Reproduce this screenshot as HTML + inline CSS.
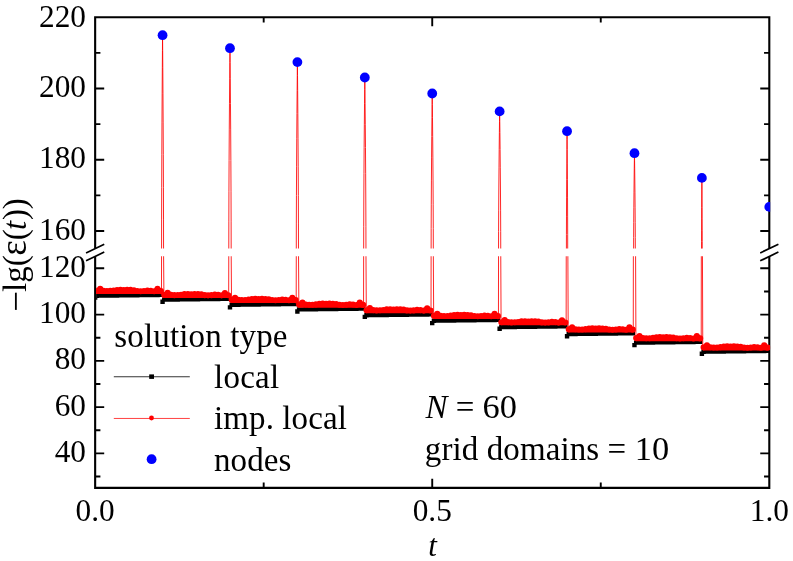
<!DOCTYPE html>
<html><head><meta charset="utf-8"><title>chart</title>
<style>html,body{margin:0;padding:0;background:#fff;}body{width:793px;height:561px;overflow:hidden;}svg{display:block;}text{font-family:"Liberation Serif",serif;fill:#000;}</style>
</head><body>
<svg width="793" height="561" viewBox="0 0 793 561" style="will-change:transform">
<rect x="0" y="0" width="793" height="561" fill="#fff"/>
<path d="M95.15 16.20V248.60M95.15 256.30V488.90M769.30 16.20V248.60M769.30 256.30V488.90M95.15 17.25H769.30M95.15 487.85H769.30" stroke="#000" stroke-width="2.1" fill="none"/>
<path d="M95.15 231.00h9.05M769.30 231.00h-9.05M95.15 159.75h9.05M769.30 159.75h-9.05M95.15 88.50h9.05M769.30 88.50h-9.05M95.15 195.38h5.25M769.30 195.38h-5.25M95.15 124.12h5.25M769.30 124.12h-5.25M95.15 52.88h5.25M769.30 52.88h-5.25M95.15 453.40h9.05M769.30 453.40h-9.05M95.15 407.13h9.05M769.30 407.13h-9.05M95.15 360.85h9.05M769.30 360.85h-9.05M95.15 314.58h9.05M769.30 314.58h-9.05M95.15 268.30h9.05M769.30 268.30h-9.05M95.15 476.54h5.25M769.30 476.54h-5.25M95.15 430.27h5.25M769.30 430.27h-5.25M95.15 383.99h5.25M769.30 383.99h-5.25M95.15 337.71h5.25M769.30 337.71h-5.25M95.15 291.44h5.25M769.30 291.44h-5.25M432.23 487.85v-9.05M432.23 17.25v9.05M263.69 487.85v-5.25M263.69 17.25v5.25M600.76 487.85v-5.25M600.76 17.25v5.25" stroke="#000" stroke-width="1.9" fill="none"/>
<path d="M86.05 252.90L104.25 244.20M86.05 260.80L104.25 252.10M760.20 252.90L778.40 244.20M760.20 260.80L778.40 252.10" stroke="#000" stroke-width="1.7" fill="none"/>
<clipPath id="cl"><rect x="96.10" y="256.30" width="674.05" height="231.55"/></clipPath>
<clipPath id="cu"><rect x="96.10" y="17.25" width="674.05" height="231.35"/></clipPath>
<g clip-path="url(#cl)"><path d="M92.95 295.40h4.4v4.4h-4.4zM94.64 293.50h4.4v4.4h-4.4zM98.01 293.46h4.4v4.4h-4.4zM101.38 293.42h4.4v4.4h-4.4zM104.75 293.37h4.4v4.4h-4.4zM108.12 293.33h4.4v4.4h-4.4zM111.49 293.29h4.4v4.4h-4.4zM114.86 293.25h4.4v4.4h-4.4zM118.23 293.21h4.4v4.4h-4.4zM121.60 293.16h4.4v4.4h-4.4zM124.97 293.12h4.4v4.4h-4.4zM128.34 293.08h4.4v4.4h-4.4zM131.71 293.04h4.4v4.4h-4.4zM135.08 292.99h4.4v4.4h-4.4zM138.46 292.95h4.4v4.4h-4.4zM141.83 292.91h4.4v4.4h-4.4zM145.20 292.87h4.4v4.4h-4.4zM148.57 292.83h4.4v4.4h-4.4zM151.94 292.78h4.4v4.4h-4.4zM155.31 292.74h4.4v4.4h-4.4zM158.68 292.70h4.4v4.4h-4.4zM160.37 299.55h4.4v4.4h-4.4zM162.05 297.40h4.4v4.4h-4.4zM165.42 297.36h4.4v4.4h-4.4zM168.79 297.32h4.4v4.4h-4.4zM172.16 297.27h4.4v4.4h-4.4zM175.53 297.23h4.4v4.4h-4.4zM178.90 297.19h4.4v4.4h-4.4zM182.27 297.15h4.4v4.4h-4.4zM185.65 297.11h4.4v4.4h-4.4zM189.02 297.06h4.4v4.4h-4.4zM192.39 297.02h4.4v4.4h-4.4zM195.76 296.98h4.4v4.4h-4.4zM199.13 296.94h4.4v4.4h-4.4zM202.50 296.89h4.4v4.4h-4.4zM205.87 296.85h4.4v4.4h-4.4zM209.24 296.81h4.4v4.4h-4.4zM212.61 296.77h4.4v4.4h-4.4zM215.98 296.73h4.4v4.4h-4.4zM219.35 296.68h4.4v4.4h-4.4zM222.72 296.64h4.4v4.4h-4.4zM226.09 296.60h4.4v4.4h-4.4zM227.78 305.20h4.4v4.4h-4.4zM229.47 302.60h4.4v4.4h-4.4zM232.84 302.56h4.4v4.4h-4.4zM236.21 302.52h4.4v4.4h-4.4zM239.58 302.47h4.4v4.4h-4.4zM242.95 302.43h4.4v4.4h-4.4zM246.32 302.39h4.4v4.4h-4.4zM249.69 302.35h4.4v4.4h-4.4zM253.06 302.31h4.4v4.4h-4.4zM256.43 302.26h4.4v4.4h-4.4zM259.80 302.22h4.4v4.4h-4.4zM263.17 302.18h4.4v4.4h-4.4zM266.54 302.14h4.4v4.4h-4.4zM269.91 302.09h4.4v4.4h-4.4zM273.29 302.05h4.4v4.4h-4.4zM276.66 302.01h4.4v4.4h-4.4zM280.03 301.97h4.4v4.4h-4.4zM283.40 301.93h4.4v4.4h-4.4zM286.77 301.88h4.4v4.4h-4.4zM290.14 301.84h4.4v4.4h-4.4zM293.51 301.80h4.4v4.4h-4.4zM295.19 309.30h4.4v4.4h-4.4zM296.88 307.20h4.4v4.4h-4.4zM300.25 307.16h4.4v4.4h-4.4zM303.62 307.12h4.4v4.4h-4.4zM306.99 307.07h4.4v4.4h-4.4zM310.36 307.03h4.4v4.4h-4.4zM313.73 306.99h4.4v4.4h-4.4zM317.10 306.95h4.4v4.4h-4.4zM320.48 306.91h4.4v4.4h-4.4zM323.85 306.86h4.4v4.4h-4.4zM327.22 306.82h4.4v4.4h-4.4zM330.59 306.78h4.4v4.4h-4.4zM333.96 306.74h4.4v4.4h-4.4zM337.33 306.69h4.4v4.4h-4.4zM340.70 306.65h4.4v4.4h-4.4zM344.07 306.61h4.4v4.4h-4.4zM347.44 306.57h4.4v4.4h-4.4zM350.81 306.53h4.4v4.4h-4.4zM354.18 306.48h4.4v4.4h-4.4zM357.55 306.44h4.4v4.4h-4.4zM360.92 306.40h4.4v4.4h-4.4zM362.61 314.70h4.4v4.4h-4.4zM364.30 313.00h4.4v4.4h-4.4zM367.67 312.96h4.4v4.4h-4.4zM371.04 312.92h4.4v4.4h-4.4zM374.41 312.87h4.4v4.4h-4.4zM377.78 312.83h4.4v4.4h-4.4zM381.15 312.79h4.4v4.4h-4.4zM384.52 312.75h4.4v4.4h-4.4zM387.89 312.71h4.4v4.4h-4.4zM391.26 312.66h4.4v4.4h-4.4zM394.63 312.62h4.4v4.4h-4.4zM398.00 312.58h4.4v4.4h-4.4zM401.37 312.54h4.4v4.4h-4.4zM404.74 312.49h4.4v4.4h-4.4zM408.12 312.45h4.4v4.4h-4.4zM411.49 312.41h4.4v4.4h-4.4zM414.86 312.37h4.4v4.4h-4.4zM418.23 312.33h4.4v4.4h-4.4zM421.60 312.28h4.4v4.4h-4.4zM424.97 312.24h4.4v4.4h-4.4zM428.34 312.20h4.4v4.4h-4.4zM430.02 320.90h4.4v4.4h-4.4zM431.71 318.50h4.4v4.4h-4.4zM435.08 318.46h4.4v4.4h-4.4zM438.45 318.42h4.4v4.4h-4.4zM441.82 318.37h4.4v4.4h-4.4zM445.19 318.33h4.4v4.4h-4.4zM448.56 318.29h4.4v4.4h-4.4zM451.93 318.25h4.4v4.4h-4.4zM455.31 318.21h4.4v4.4h-4.4zM458.68 318.16h4.4v4.4h-4.4zM462.05 318.12h4.4v4.4h-4.4zM465.42 318.08h4.4v4.4h-4.4zM468.79 318.04h4.4v4.4h-4.4zM472.16 317.99h4.4v4.4h-4.4zM475.53 317.95h4.4v4.4h-4.4zM478.90 317.91h4.4v4.4h-4.4zM482.27 317.87h4.4v4.4h-4.4zM485.64 317.83h4.4v4.4h-4.4zM489.01 317.78h4.4v4.4h-4.4zM492.38 317.74h4.4v4.4h-4.4zM495.75 317.70h4.4v4.4h-4.4zM497.44 326.50h4.4v4.4h-4.4zM499.13 324.90h4.4v4.4h-4.4zM502.50 324.86h4.4v4.4h-4.4zM505.87 324.82h4.4v4.4h-4.4zM509.24 324.77h4.4v4.4h-4.4zM512.61 324.73h4.4v4.4h-4.4zM515.98 324.69h4.4v4.4h-4.4zM519.35 324.65h4.4v4.4h-4.4zM522.72 324.61h4.4v4.4h-4.4zM526.09 324.56h4.4v4.4h-4.4zM529.46 324.52h4.4v4.4h-4.4zM532.83 324.48h4.4v4.4h-4.4zM536.20 324.44h4.4v4.4h-4.4zM539.57 324.39h4.4v4.4h-4.4zM542.95 324.35h4.4v4.4h-4.4zM546.32 324.31h4.4v4.4h-4.4zM549.69 324.27h4.4v4.4h-4.4zM553.06 324.23h4.4v4.4h-4.4zM556.43 324.18h4.4v4.4h-4.4zM559.80 324.14h4.4v4.4h-4.4zM563.17 324.10h4.4v4.4h-4.4zM564.85 334.10h4.4v4.4h-4.4zM566.54 331.85h4.4v4.4h-4.4zM569.91 331.81h4.4v4.4h-4.4zM573.28 331.77h4.4v4.4h-4.4zM576.65 331.72h4.4v4.4h-4.4zM580.02 331.68h4.4v4.4h-4.4zM583.39 331.64h4.4v4.4h-4.4zM586.76 331.60h4.4v4.4h-4.4zM590.14 331.56h4.4v4.4h-4.4zM593.51 331.51h4.4v4.4h-4.4zM596.88 331.47h4.4v4.4h-4.4zM600.25 331.43h4.4v4.4h-4.4zM603.62 331.39h4.4v4.4h-4.4zM606.99 331.34h4.4v4.4h-4.4zM610.36 331.30h4.4v4.4h-4.4zM613.73 331.26h4.4v4.4h-4.4zM617.10 331.22h4.4v4.4h-4.4zM620.47 331.18h4.4v4.4h-4.4zM623.84 331.13h4.4v4.4h-4.4zM627.21 331.09h4.4v4.4h-4.4zM630.58 331.05h4.4v4.4h-4.4zM632.27 342.95h4.4v4.4h-4.4zM633.96 340.45h4.4v4.4h-4.4zM637.33 340.41h4.4v4.4h-4.4zM640.70 340.37h4.4v4.4h-4.4zM644.07 340.32h4.4v4.4h-4.4zM647.44 340.28h4.4v4.4h-4.4zM650.81 340.24h4.4v4.4h-4.4zM654.18 340.20h4.4v4.4h-4.4zM657.55 340.16h4.4v4.4h-4.4zM660.92 340.11h4.4v4.4h-4.4zM664.29 340.07h4.4v4.4h-4.4zM667.66 340.03h4.4v4.4h-4.4zM671.03 339.99h4.4v4.4h-4.4zM674.40 339.94h4.4v4.4h-4.4zM677.78 339.90h4.4v4.4h-4.4zM681.15 339.86h4.4v4.4h-4.4zM684.52 339.82h4.4v4.4h-4.4zM687.89 339.78h4.4v4.4h-4.4zM691.26 339.73h4.4v4.4h-4.4zM694.63 339.69h4.4v4.4h-4.4zM698.00 339.65h4.4v4.4h-4.4zM699.68 351.60h4.4v4.4h-4.4zM701.37 349.50h4.4v4.4h-4.4zM704.74 349.46h4.4v4.4h-4.4zM708.11 349.42h4.4v4.4h-4.4zM711.48 349.37h4.4v4.4h-4.4zM714.85 349.33h4.4v4.4h-4.4zM718.22 349.29h4.4v4.4h-4.4zM721.59 349.25h4.4v4.4h-4.4zM724.97 349.21h4.4v4.4h-4.4zM728.34 349.16h4.4v4.4h-4.4zM731.71 349.12h4.4v4.4h-4.4zM735.08 349.08h4.4v4.4h-4.4zM738.45 349.04h4.4v4.4h-4.4zM741.82 348.99h4.4v4.4h-4.4zM745.19 348.95h4.4v4.4h-4.4zM748.56 348.91h4.4v4.4h-4.4zM751.93 348.87h4.4v4.4h-4.4zM755.30 348.83h4.4v4.4h-4.4zM758.67 348.78h4.4v4.4h-4.4zM762.04 348.74h4.4v4.4h-4.4zM765.41 348.70h4.4v4.4h-4.4z" fill="#000"/></g>
<g clip-path="url(#cl)"><path d="M161.47 291.00L161.56 252.5M163.56 252.5L163.91 295.15M228.68 295.15L228.78 252.5M231.18 252.5L231.53 300.05M296.19 300.05L296.29 252.5M298.50 252.5L298.85 304.80M363.56 304.80L363.66 252.5M365.96 252.5L366.31 310.40M431.02 310.40L431.12 252.5M433.32 252.5L433.67 316.05M498.44 316.05L498.54 252.5M500.74 252.5L501.09 322.40M566.15 322.40L566.25 252.5M567.85 252.5L568.20 329.55M633.27 329.55L633.37 252.5M635.57 252.5L635.92 338.30M701.23 338.30L701.33 252.5M702.43 252.5L702.78 347.55" stroke="#f00" stroke-width="0.85" fill="none"/></g>
<g clip-path="url(#cu)"><path d="M161.56 252.50L161.60 219.91L161.69 187.31L161.82 154.72L161.98 122.12L162.15 93.87L162.32 67.80L162.45 50.41L162.56 35.20L162.68 50.41L162.81 67.80L162.98 93.87L163.15 122.12L163.31 154.72L163.44 187.31L163.53 219.91L163.56 252.50M228.78 252.50L228.83 221.86L228.93 191.21L229.09 160.56L229.28 129.92L229.48 103.36L229.69 78.84L229.84 62.50L229.98 48.20L230.12 62.50L230.27 78.84L230.48 103.36L230.68 129.92L230.87 160.56L231.03 191.21L231.13 221.86L231.18 252.50M296.29 252.50L296.34 223.94L296.44 195.38L296.58 166.82L296.76 138.26L296.94 113.51L297.13 90.66L297.27 75.43L297.39 62.10L297.52 75.43L297.66 90.66L297.85 113.51L298.03 138.26L298.21 166.82L298.35 195.38L298.45 223.94L298.50 252.50M363.66 252.50L363.71 226.25L363.81 200.00L363.96 173.75L364.14 147.50L364.33 124.75L364.53 103.75L364.68 89.75L364.81 77.50L364.94 89.75L365.09 103.75L365.29 124.75L365.48 147.50L365.66 173.75L365.81 200.00L365.91 226.25L365.96 252.50M431.12 252.50L431.17 228.65L431.27 204.80L431.41 180.95L431.59 157.10L431.77 136.43L431.96 117.35L432.10 104.63L432.22 93.50L432.35 104.63L432.49 117.35L432.68 136.43L432.86 157.10L433.04 180.95L433.18 204.80L433.28 228.65L433.32 252.50M498.54 252.50L498.58 231.33L498.68 210.17L498.82 189.00L499.00 167.84L499.18 149.50L499.37 132.56L499.51 121.28L499.64 111.40L499.77 121.28L499.91 132.56L500.10 149.50L500.28 167.84L500.46 189.00L500.60 210.17L500.70 231.33L500.74 252.50M566.40 252.50L566.43 234.31L566.49 216.11L566.57 197.92L566.68 179.72L566.79 163.95L566.90 149.39L566.98 139.69L567.05 131.20L567.13 139.69L567.21 149.39L567.32 163.95L567.43 179.72L567.54 197.92L567.62 216.11L567.68 234.31L567.70 252.50M633.62 252.50L633.65 237.60L633.73 222.71L633.84 207.81L633.98 192.92L634.12 180.01L634.26 168.09L634.37 160.15L634.47 153.20L634.57 160.15L634.68 168.09L634.82 180.01L634.96 192.92L635.10 207.81L635.21 222.71L635.29 237.60L635.32 252.50M701.53 252.50L701.55 241.31L701.58 230.12L701.63 218.93L701.68 207.74L701.74 198.04L701.80 189.09L701.84 183.12L701.88 177.90L701.93 183.12L701.97 189.09L702.03 198.04L702.09 207.74L702.14 218.93L702.19 230.12L702.22 241.31L702.23 252.50" stroke="#f00" stroke-width="0.85" stroke-linejoin="round" fill="none"/></g>
<g clip-path="url(#cl)"><path d="M96.84 291.55H160.88M164.25 295.70H228.29M231.67 300.60H295.71M299.08 305.35H363.12M366.50 310.95H430.54M433.91 316.60H497.95M501.33 322.95H565.37M568.74 330.10H632.78M636.16 338.85H700.20M703.57 348.10H767.61" stroke="#f00" stroke-width="4.80" stroke-linecap="round" fill="none"/><path d="M96.84 290.80h.01M100.21 288.70h.01M103.58 290.70h.01M106.95 291.00h.01M110.32 290.90h.01M113.69 290.60h.01M117.06 290.00h.01M120.43 289.80h.01M123.80 290.10h.01M127.17 289.80h.01M130.54 289.90h.01M133.91 290.20h.01M137.28 291.00h.01M140.66 291.20h.01M144.03 291.00h.01M147.40 290.50h.01M150.77 290.70h.01M154.14 291.20h.01M157.51 288.80h.01M160.88 291.10h.01M164.25 294.95h.01M167.62 292.85h.01M170.99 294.85h.01M174.36 295.15h.01M177.73 295.05h.01M181.10 294.75h.01M184.47 294.15h.01M187.85 293.95h.01M191.22 294.25h.01M194.59 293.95h.01M197.96 294.05h.01M201.33 294.35h.01M204.70 295.15h.01M208.07 295.35h.01M211.44 295.15h.01M214.81 294.65h.01M218.18 294.85h.01M221.55 295.35h.01M224.92 292.95h.01M228.29 295.25h.01M231.67 299.85h.01M235.04 297.75h.01M238.41 299.75h.01M241.78 300.05h.01M245.15 299.95h.01M248.52 299.65h.01M251.89 299.05h.01M255.26 298.85h.01M258.63 299.15h.01M262.00 298.85h.01M265.37 298.95h.01M268.74 299.25h.01M272.11 300.05h.01M275.49 300.25h.01M278.86 300.05h.01M282.23 299.55h.01M285.60 299.75h.01M288.97 300.25h.01M292.34 297.85h.01M295.71 300.15h.01M299.08 304.60h.01M302.45 302.50h.01M305.82 304.50h.01M309.19 304.80h.01M312.56 304.70h.01M315.93 304.40h.01M319.30 303.80h.01M322.68 303.60h.01M326.05 303.90h.01M329.42 303.60h.01M332.79 303.70h.01M336.16 304.00h.01M339.53 304.80h.01M342.90 305.00h.01M346.27 304.80h.01M349.64 304.30h.01M353.01 304.50h.01M356.38 305.00h.01M359.75 302.60h.01M363.12 304.90h.01M366.50 310.20h.01M369.87 308.10h.01M373.24 310.10h.01M376.61 310.40h.01M379.98 310.30h.01M383.35 310.00h.01M386.72 309.40h.01M390.09 309.20h.01M393.46 309.50h.01M396.83 309.20h.01M400.20 309.30h.01M403.57 309.60h.01M406.94 310.40h.01M410.32 310.60h.01M413.69 310.40h.01M417.06 309.90h.01M420.43 310.10h.01M423.80 310.60h.01M427.17 308.20h.01M430.54 310.50h.01M433.91 315.85h.01M437.28 313.75h.01M440.65 315.75h.01M444.02 316.05h.01M447.39 315.95h.01M450.76 315.65h.01M454.13 315.05h.01M457.51 314.85h.01M460.88 315.15h.01M464.25 314.85h.01M467.62 314.95h.01M470.99 315.25h.01M474.36 316.05h.01M477.73 316.25h.01M481.10 316.05h.01M484.47 315.55h.01M487.84 315.75h.01M491.21 316.25h.01M494.58 313.85h.01M497.95 316.15h.01M501.33 322.20h.01M504.70 320.10h.01M508.07 322.10h.01M511.44 322.40h.01M514.81 322.30h.01M518.18 322.00h.01M521.55 321.40h.01M524.92 321.20h.01M528.29 321.50h.01M531.66 321.20h.01M535.03 321.30h.01M538.40 321.60h.01M541.77 322.40h.01M545.15 322.60h.01M548.52 322.40h.01M551.89 321.90h.01M555.26 322.10h.01M558.63 322.60h.01M562.00 320.20h.01M565.37 322.50h.01M568.74 329.35h.01M572.11 327.25h.01M575.48 329.25h.01M578.85 329.55h.01M582.22 329.45h.01M585.59 329.15h.01M588.96 328.55h.01M592.34 328.35h.01M595.71 328.65h.01M599.08 328.35h.01M602.45 328.45h.01M605.82 328.75h.01M609.19 329.55h.01M612.56 329.75h.01M615.93 329.55h.01M619.30 329.05h.01M622.67 329.25h.01M626.04 329.75h.01M629.41 327.35h.01M632.78 329.65h.01M636.16 338.10h.01M639.53 336.00h.01M642.90 338.00h.01M646.27 338.30h.01M649.64 338.20h.01M653.01 337.90h.01M656.38 337.30h.01M659.75 337.10h.01M663.12 337.40h.01M666.49 337.10h.01M669.86 337.20h.01M673.23 337.50h.01M676.60 338.30h.01M679.98 338.50h.01M683.35 338.30h.01M686.72 337.80h.01M690.09 338.00h.01M693.46 338.50h.01M696.83 336.10h.01M700.20 338.40h.01M703.57 347.35h.01M706.94 345.25h.01M710.31 347.25h.01M713.68 347.55h.01M717.05 347.45h.01M720.42 347.15h.01M723.79 346.55h.01M727.17 346.35h.01M730.54 346.65h.01M733.91 346.35h.01M737.28 346.45h.01M740.65 346.75h.01M744.02 347.55h.01M747.39 347.75h.01M750.76 347.55h.01M754.13 347.05h.01M757.50 347.25h.01M760.87 347.75h.01M764.24 345.35h.01M767.61 347.65h.01" stroke="#f00" stroke-width="6.1" stroke-linecap="round" fill="none"/></g>
<clipPath id="cb"><rect x="0" y="0" width="770.15" height="561"/></clipPath>
<g clip-path="url(#cb)" fill="#00f">
<circle cx="162.56" cy="35.20" r="4.9"/>
<circle cx="229.98" cy="48.20" r="4.9"/>
<circle cx="297.39" cy="62.10" r="4.9"/>
<circle cx="364.81" cy="77.50" r="4.9"/>
<circle cx="432.22" cy="93.50" r="4.9"/>
<circle cx="499.64" cy="111.40" r="4.9"/>
<circle cx="567.05" cy="131.20" r="4.9"/>
<circle cx="634.47" cy="153.20" r="4.9"/>
<circle cx="701.88" cy="177.90" r="4.9"/>
<circle cx="769.30" cy="206.90" r="4.9"/>
</g>
<text x="86.0" y="26.50" font-size="31.3" text-anchor="end">220</text>
<text x="86.0" y="97.00" font-size="31.3" text-anchor="end">200</text>
<text x="86.0" y="168.25" font-size="31.3" text-anchor="end">180</text>
<text x="86.0" y="239.50" font-size="31.3" text-anchor="end">160</text>
<text x="86.0" y="276.80" font-size="31.3" text-anchor="end">120</text>
<text x="86.0" y="323.08" font-size="31.3" text-anchor="end">100</text>
<text x="86.0" y="369.35" font-size="31.3" text-anchor="end">80</text>
<text x="86.0" y="415.63" font-size="31.3" text-anchor="end">60</text>
<text x="86.0" y="461.90" font-size="31.3" text-anchor="end">40</text>
<text x="95.15" y="521.3" font-size="31.3" text-anchor="middle">0.0</text>
<text x="432.23" y="521.3" font-size="31.3" text-anchor="middle">0.5</text>
<text x="769.30" y="521.3" font-size="31.3" text-anchor="middle">1.0</text>
<text x="432.6" y="556.3" font-size="31" font-style="italic" text-anchor="middle">t</text>
<text transform="translate(25.9 310.54) rotate(-90)" font-size="33"><tspan x="-1.2" y="1.75" font-size="37">−</tspan><tspan x="18.61" y="0">lg(</tspan><tspan x="54.9" font-size="37">ε</tspan><tspan x="70.2">(</tspan><tspan x="80.67" font-style="italic">t</tspan><tspan x="90.65">)</tspan><tspan x="101.2">)</tspan></text>
<text x="114.3" y="346.8" font-size="33" letter-spacing="0.15">solution type</text>
<text x="214.0" y="388.1" font-size="33" letter-spacing="0.25">local</text>
<text x="214.0" y="429.4" font-size="33" letter-spacing="0.1">imp. local</text>
<text x="214.0" y="470.8" font-size="33" letter-spacing="0.1">nodes</text>
<path d="M113.8 376.75H189.8" stroke="#000" stroke-width="0.8" fill="none"/>
<rect x="149.20" y="374.40" width="4.8" height="4.5" fill="#000"/>
<path d="M113.8 418.45H189.8" stroke="#f00" stroke-width="0.75" fill="none"/>
<circle cx="151.5" cy="418.0" r="2.4" fill="#f00"/>
<circle cx="151.6" cy="459.2" r="4.9" fill="#00f"/>
<text x="425.4" y="418.2" font-size="33"><tspan font-style="italic">N</tspan> = <tspan font-size="34.4">60</tspan></text>
<text x="424.8" y="459.5" font-size="33" letter-spacing="0.1">grid domains = <tspan font-size="34.4">10</tspan></text>
</svg>
</body></html>
